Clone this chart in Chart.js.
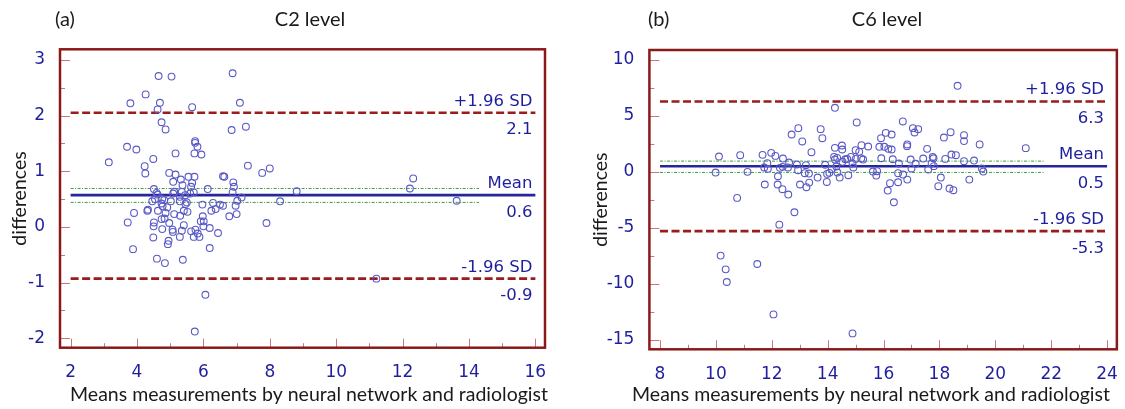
<!DOCTYPE html>
<html>
<head>
<meta charset="utf-8">
<script src="https://cdn.jsdelivr.net/npm/chart.js@4.4.1/dist/chart.umd.min.js"></script>
<style>
    html, body { margin: 0; padding: 0; background: #ffffff; }
    .figure { position: relative; width: 1125px; height: 409px; overflow: hidden; }
    .figure canvas { position: absolute; top: 0; }
    #c2Chart { left: 0; }
    #c6Chart { left: 562px; }
</style>
</head>
<body>
<div class="figure">
    <canvas id="c2Chart" width="562" height="409"></canvas>
    <canvas id="c6Chart" width="563" height="409"></canvas>
</div>
<script>
// ---- C2 level: means of both measurements vs. their differences ----
const c2Means = [
    4.65, 5.04, 6.88, 4.26, 3.80, 4.69, 7.10, 5.66, 4.62, 4.74, 4.86, 6.85, 7.28, 5.75, 5.75, 5.82,
    3.70, 3.98, 5.73, 5.94, 5.16, 4.49, 3.15, 7.34, 4.23, 4.25, 4.97, 5.16, 5.73, 5.32, 5.09, 5.55,
    6.63, 6.59, 7.77, 8.00, 12.32, 12.22, 8.81, 13.63, 8.31, 7.90, 11.21, 6.06, 5.74, 6.90, 6.92, 6.88,
    7.15, 7.02, 6.97, 7.00, 6.78, 6.59, 6.44, 6.19, 6.19, 6.13, 5.97, 6.29, 6.24, 6.37, 6.50, 5.98,
    6.01, 5.92, 6.00, 5.76, 5.71, 5.88, 5.83, 5.63, 5.38, 4.84, 4.60, 3.88, 4.49, 4.93, 4.95, 3.72,
    3.91, 4.33, 4.31, 4.50, 4.51, 4.76, 4.74, 4.83, 4.63, 4.86, 4.97, 5.12, 5.07, 5.08, 5.29, 5.30,
    5.35, 5.41, 5.41, 5.52, 5.46, 5.50, 5.29, 5.02, 4.91, 4.77, 4.76, 4.54, 4.46, 4.59, 4.51, 4.62,
    4.74, 4.82, 5.09, 5.12, 5.35, 5.45, 5.60, 5.71, 5.63, 5.66, 5.37, 5.29
];
const c2Differences = [
    2.71, 2.70, 2.76, 2.38, 2.22, 2.23, 2.23, 2.15, 2.11, 1.88, 1.75, 1.74, 1.80, 1.54, 1.51, 1.44,
    1.44, 1.39, 1.32, 1.30, 1.32, 1.22, 1.16, 1.10, 1.09, 0.96, 0.97, 0.94, 0.90, 0.85, 0.81, 0.90,
    0.90, 0.91, 0.97, 1.05, 0.87, 0.69, 0.64, 0.47, 0.46, 0.07, -0.93, -1.22, -1.88, 0.80, 0.72, 0.62,
    0.53, 0.47, 0.38, 0.23, 0.19, 0.38, -0.11, -0.38, -0.02, 0.68, 0.40, 0.43, 0.29, 0.32, 0.40, 0.19,
    0.10, 0.10, 0.01, -0.05, -0.18, -0.18, -0.12, -0.08, -0.59, -0.65, -0.57, -0.40, -0.19, -0.31, -0.25, 0.08,
    0.25, 0.31, 0.29, 0.01, 0.08, -0.04, 0.14, 0.15, 0.29, 0.25, 0.07, 0.23, -0.05, -0.09, -0.18, 0.20,
    -0.07, 0.03, 0.29, 0.27, 0.41, 0.44, 0.46, 0.46, 0.35, 0.37, 0.50, 0.50, 0.46, 0.61, 0.68, 0.58,
    0.42, 0.48, 0.60, 0.63, 0.63, 0.57, 0.60, 0.62, 0.72, 0.79, 0.75, 0.54
];
const c2XTicks = [2, 4, 6, 8, 10, 12, 14, 16];
const c2YTicks = [-2, -1, 0, 1, 2, 3];
const c2Limits = [2.05, 0.57, -0.93];        // +1.96 SD, mean, -1.96 SD
const c2LimitNames = ['+1.96 SD', 'Mean', '-1.96 SD'];
const c2LimitValues = ['2.1', '0.6', '-0.9'];
const c2MeanCI = [0.69, 0.44];
const c2LineRange = [2, 16];
const c2CIRange = [2, 14.3];

// ---- C6 level ----
const c6Means = [
    18.65, 14.26, 15.04, 16.69, 12.95, 13.75, 17.05, 17.24, 17.11, 18.40, 18.16, 18.88, 18.88, 12.71, 13.81, 13.09,
    16.08, 16.29, 15.91, 14.51, 14.26, 14.52, 15.21, 15.45, 15.00, 15.13, 15.85, 16.03, 16.17, 16.29, 16.85, 16.84,
    17.56, 19.44, 21.09, 13.42, 11.98, 11.67, 12.13, 10.11, 10.87, 12.40, 12.62, 11.84, 11.73, 11.86, 12.29, 12.39,
    12.58, 12.90, 12.94, 13.22, 13.18, 13.33, 13.64, 13.91, 13.98, 14.06, 14.15, 14.23, 14.34, 14.31, 14.35, 14.43,
    14.53, 14.63, 14.74, 14.83, 14.89, 14.92, 15.00, 15.27, 15.62, 15.74, 15.77, 15.92, 16.23, 16.15, 16.37, 16.33,
    16.52, 16.55, 16.70, 16.52, 16.85, 16.97, 17.00, 17.15, 17.42, 17.60, 17.72, 17.76, 17.80, 17.79, 18.05, 17.96,
    18.21, 18.36, 18.43, 18.50, 18.59, 18.88, 19.07, 19.24, 19.52, 19.57, 9.99, 11.13, 11.75, 12.21, 12.38, 12.59,
    10.76, 12.81, 12.27, 10.17, 10.35, 10.39, 11.48, 12.06, 14.89, 13.01, 13.24, 13.34, 13.97, 12.22, 14.26, 14.70,
    15.20
];
const c6Differences = [
    7.70, 5.73, 4.42, 4.51, 3.91, 3.82, 3.91, 3.82, 3.52, 3.55, 3.07, 3.28, 2.75, 3.34, 3.01, 2.72,
    3.49, 3.34, 3.01, 2.36, 2.15, 2.00, 2.39, 2.27, 1.94, 1.79, 2.24, 2.24, 2.06, 2.00, 2.45, 2.30,
    2.06, 2.45, 2.12, 1.76, 1.70, 1.52, 1.43, 1.37, 1.49, 1.19, 0.84, 0.78, 0.39, 0.27, 0.36, 0.45,
    0.39, 0.66, 0.15, 0.60, -0.12, -0.15, -0.51, 0.63, -0.18, -0.09, 0.24, 1.34, 1.25, 0.48, -0.06, -0.51,
    0.90, 1.13, -0.30, 1.34, 0.75, 0.39, 1.16, 1.10, 0.03, -0.33, 0.06, 1.22, -1.01, -1.67, -2.72, 1.13,
    -0.12, 0.75, -0.24, -0.93, -0.69, 1.10, 0.30, 0.72, 1.19, 0.21, 0.75, 1.34, 0.51, 1.22, -0.51, -1.28,
    1.16, -1.49, 1.55, -1.64, 1.49, 0.96, -0.69, 1.01, 0.30, 0.03, -0.06, 0.00, -1.13, -1.13, -1.55, -2.03,
    -2.33, -3.61, -4.72, -7.49, -8.72, -9.85, -8.24, -12.75, -14.45, -1.13, -1.37, -0.96, -0.90, -0.39, 1.10, 1.15,
    1.20
];
const c6XTicks = [8, 10, 12, 14, 16, 18, 20, 22, 24];
const c6YTicks = [-15, -10, -5, 0, 5, 10];
const c6Limits = [6.3, 0.5, -5.3];
const c6LimitNames = ['+1.96 SD', 'Mean', '-1.96 SD'];
const c6LimitValues = ['6.3', '0.5', '-5.3'];
const c6MeanCI = [0.96, -0.05];
const c6LineRange = [8, 24];
const c6CIRange = [8, 21.75];

const COLORS = {
    frame: '#8a1a1a',
    tick: '#c87878',
    tickLabel: '#1f1f9e',
    point: '#5a5ac6',
    limit: '#9a1c1c',
    mean: '#26269a',
    ci: '#3c9c3c',
    text: '#1a1a1a'
};
const NUM_FONT = '"DejaVu Sans", Verdana, sans-serif';
const TEXT_FONT = 'Lato, "Open Sans", sans-serif';

function pairs(xs, ys) {
    return xs.map(function (x, i) {
        return { x: x, y: ys[i] };
    });
}

function hLine(value, range, color, width, dash) {
    return {
        type: 'line',
        data: [{ x: range[0], y: value }, { x: range[1], y: value }],
        borderColor: color,
        borderWidth: width,
        borderDash: dash,
        pointRadius: 0,
        fill: false,
        tension: 0
    };
}

function midpoints(values) {
    const result = [];
    for (let i = 0; i < values.length - 1; i++) {
        result.push((values[i] + values[i + 1]) / 2);
    }
    return result;
}

const blandAltmanPlugin = {
    id: 'blandAltman',
    afterDatasetsDraw: function (chart, args, opts) {
        const ctx = chart.ctx;
        const area = chart.chartArea;
        const xScale = chart.scales.x;
        const yScale = chart.scales.y;

        ctx.save();

        // limit labels, right aligned at the end of the lines
        ctx.fillStyle = COLORS.tickLabel;
        ctx.font = '16.5px ' + NUM_FONT;
        ctx.textAlign = 'right';
        ctx.textBaseline = 'alphabetic';
        const labelX = xScale.getPixelForValue(opts.labelAt) - 3;
        opts.limits.forEach(function (value, i) {
            const y = yScale.getPixelForValue(value);
            ctx.fillText(opts.names[i], labelX, y - 7);
            ctx.fillText(opts.values[i], labelX, y + 21.5);
        });

        // tick marks point inward
        ctx.strokeStyle = COLORS.tick;
        ctx.lineWidth = 1;
        ctx.beginPath();
        opts.xTicks.forEach(function (v) {
            const x = Math.round(xScale.getPixelForValue(v)) + 0.5;
            ctx.moveTo(x, area.bottom);
            ctx.lineTo(x, area.bottom - 9);
        });
        midpoints(opts.xTicks).forEach(function (v) {
            const x = Math.round(xScale.getPixelForValue(v)) + 0.5;
            ctx.moveTo(x, area.bottom);
            ctx.lineTo(x, area.bottom - 4.5);
        });
        opts.yTicks.forEach(function (v) {
            const y = Math.round(yScale.getPixelForValue(v)) + 0.5;
            ctx.moveTo(area.left, y);
            ctx.lineTo(area.left + 10, y);
        });
        midpoints(opts.yTicks).forEach(function (v) {
            const y = Math.round(yScale.getPixelForValue(v)) + 0.5;
            ctx.moveTo(area.left, y);
            ctx.lineTo(area.left + 5, y);
        });
        ctx.stroke();

        // plot frame
        ctx.strokeStyle = COLORS.frame;
        ctx.lineWidth = 2.5;
        ctx.strokeRect(area.left, area.top, area.right - area.left, area.bottom - area.top);

        // panel letter, title and x axis title
        ctx.fillStyle = COLORS.text;
        ctx.textBaseline = 'middle';
        ctx.font = '20px ' + TEXT_FONT;
        ctx.textAlign = 'left';
        ctx.fillText(opts.letter, opts.letterX, 20);
        ctx.textAlign = 'center';
        ctx.fillText(opts.title, opts.titleX, 20);
        ctx.font = '19.5px ' + TEXT_FONT;
        ctx.fillText('Means measurements by neural network and radiologist', opts.xTitleX, 395);

        ctx.restore();
    }
};

function buildChart(canvasId, cfg) {
    const canvas = document.getElementById(canvasId);
    return new Chart(canvas.getContext('2d'), {
        type: 'scatter',
        data: {
            datasets: [
                {
                    label: 'differences',
                    data: pairs(cfg.means, cfg.diffs),
                    pointStyle: 'circle',
                    pointRadius: 3.4,
                    pointBorderWidth: 1.1,
                    pointBorderColor: COLORS.point,
                    pointBackgroundColor: 'rgba(0,0,0,0)',
                    showLine: false
                },
                hLine(cfg.limits[0], cfg.lineRange, COLORS.limit, 2.6, [8, 3.5]),
                hLine(cfg.limits[1], cfg.lineRange, COLORS.mean, 2.6, []),
                hLine(cfg.limits[2], cfg.lineRange, COLORS.limit, 2.6, [8, 3.5]),
                hLine(cfg.ci[0], cfg.ciRange, COLORS.ci, 1, [3, 1.5, 1, 1.5]),
                hLine(cfg.ci[1], cfg.ciRange, COLORS.ci, 1, [3, 1.5, 1, 1.5])
            ]
        },
        options: {
            responsive: false,
            animation: false,
            layout: {
                padding: { top: cfg.padTop, right: cfg.padRight, left: 0, bottom: 0 }
            },
            plugins: {
                legend: { display: false },
                tooltip: { enabled: false },
                blandAltman: {
                    limits: cfg.limits,
                    names: cfg.names,
                    values: cfg.values,
                    labelAt: cfg.lineRange[1],
                    xTicks: cfg.xTicks,
                    yTicks: cfg.yTicks,
                    letter: cfg.letter,
                    letterX: cfg.letterX,
                    title: cfg.title,
                    titleX: cfg.titleX,
                    xTitleX: cfg.xTitleX
                }
            },
            scales: {
                x: {
                    type: 'linear',
                    min: cfg.xRange[0],
                    max: cfg.xRange[1],
                    grid: { display: false },
                    border: { display: false },
                    afterBuildTicks: function (axis) {
                        axis.ticks = cfg.xTicks.map(function (v) { return { value: v }; });
                    },
                    afterFit: function (axis) {
                        axis.height = cfg.xAxisHeight;
                    },
                    ticks: {
                        color: COLORS.tickLabel,
                        font: { family: NUM_FONT, size: 17 },
                        padding: 7,
                        maxRotation: 0
                    }
                },
                y: {
                    type: 'linear',
                    min: cfg.yRange[0],
                    max: cfg.yRange[1],
                    grid: { display: false },
                    border: { display: false },
                    afterBuildTicks: function (axis) {
                        axis.ticks = cfg.yTicks.map(function (v) { return { value: v }; });
                    },
                    afterFit: function (axis) {
                        axis.width = cfg.yAxisWidth;
                    },
                    ticks: {
                        color: COLORS.tickLabel,
                        font: { family: NUM_FONT, size: 17 },
                        padding: 7
                    },
                    title: {
                        display: true,
                        text: 'differences',
                        color: COLORS.text,
                        font: { family: TEXT_FONT, size: 19.5 },
                        padding: { top: cfg.yTitlePad, bottom: 0 }
                    }
                }
            }
        },
        plugins: [blandAltmanPlugin]
    });
}

buildChart('c2Chart', {
    means: c2Means,
    diffs: c2Differences,
    xTicks: c2XTicks,
    yTicks: c2YTicks,
    limits: c2Limits,
    names: c2LimitNames,
    values: c2LimitValues,
    ci: c2MeanCI,
    lineRange: c2LineRange,
    ciRange: c2CIRange,
    xRange: [1.68, 16.29],
    yRange: [-2.17, 3.19],
    padTop: 49.3,
    padRight: 17,
    xAxisHeight: 61.3,
    yAxisWidth: 60,
    yTitlePad: 8.4,
    letter: '(a)',
    letterX: 55,
    title: 'C2 level',
    titleX: 310,
    xTitleX: 309
});

buildChart('c6Chart', {
    means: c6Means,
    diffs: c6Differences,
    xTicks: c6XTicks,
    yTicks: c6YTicks,
    limits: c6Limits,
    names: c6LimitNames,
    values: c6LimitValues,
    ci: c6MeanCI,
    lineRange: c6LineRange,
    ciRange: c6CIRange,
    xRange: [7.62, 24.35],
    yRange: [-15.87, 10.9],
    padTop: 50,
    padRight: 3,
    xAxisHeight: 59.7,
    yAxisWidth: 87.4,
    yTitlePad: 27.4,
    letter: '(b)',
    letterX: 86,
    title: 'C6 level',
    titleX: 325,
    xTitleX: 309
});
</script>
</body>
</html>
